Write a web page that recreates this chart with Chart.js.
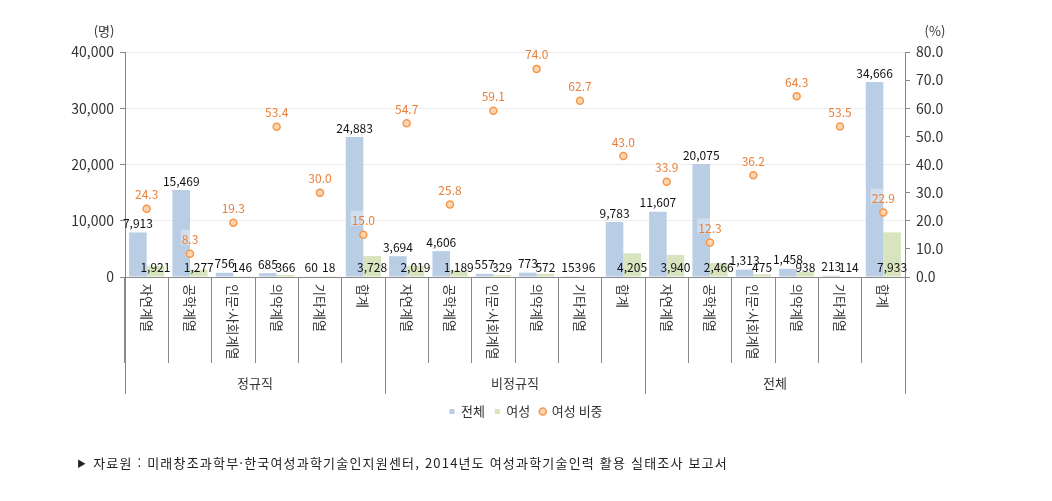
<!DOCTYPE html>
<html lang="ko">
<head>
    <meta charset="UTF-8">
    <title>여성과학기술인력 고용형태별 현황</title>
    <script src="https://cdn.jsdelivr.net/npm/chart.js"></script>
    <style>
        body { margin: 0; background: #fff; font-family: 'Noto Sans CJK KR', sans-serif; }
        #wrap { position: relative; width: 1052px; height: 501px; }
        #source {
            position: absolute;
            left: 77px;
            top: 453px;
            font-size: 13px;
            letter-spacing: 1.2px;
            color: #222;
            white-space: nowrap;
        }
        #source .arrow { font-size: 9px; margin-right: 6px; vertical-align: 1px; }
    </style>
</head>
<body>
<div id="wrap">
    <canvas id="chart" width="1052" height="501"></canvas>
    <div id="source"><span class="arrow">▶</span>자료원 : 미래창조과학부·한국여성과학기술인지원센터, 2014년도 여성과학기술인력 활용 실태조사 보고서</div>
</div>

<script>
    // categories (3 groups x 6 fields)
    const fields = ['자연계열', '공학계열', '인문·사회계열', '의약계열', '기타계열', '합계'];
    const groups = ['정규직', '비정규직', '전체'];
    const categories = [...fields, ...fields, ...fields];

    // values
    const totalValues = [7913, 15469, 756, 685, 60, 24883,
                         3694, 4606, 557, 773, 153, 9783,
                         11607, 20075, 1313, 1458, 213, 34666];
    const femaleValues = [1921, 1277, 146, 366, 18, 3728,
                          2019, 1189, 329, 572, 96, 4205,
                          3940, 2466, 475, 938, 114, 7933];
    const femaleShare = [24.3, 8.3, 19.3, 53.4, 30.0, 15.0,
                         54.7, 25.8, 59.1, 74.0, 62.7, 43.0,
                         33.9, 12.3, 36.2, 64.3, 53.5, 22.9];

    const FONT = "'Noto Sans CJK KR', sans-serif";
    const fmt = v => v.toLocaleString('en-US');

    // data labels, x axis labels, group labels and unit labels
    const decorPlugin = {
        id: 'decor',
        afterDatasetsDraw(chart) {
            const ctx = chart.ctx;
            ctx.save();
            ctx.font = '12px ' + FONT;
            ctx.textAlign = 'center';

            // total bars: label above bar
            chart.getDatasetMeta(0).data.forEach((el, i) => {
                ctx.fillStyle = '#111';
                ctx.textBaseline = 'bottom';
                ctx.fillText(fmt(totalValues[i]), el.x, el.y - 3);
            });
            // female bars: label near base
            chart.getDatasetMeta(1).data.forEach((el, i) => {
                ctx.fillStyle = '#111';
                ctx.textBaseline = 'bottom';
                ctx.fillText(fmt(femaleValues[i]), el.x, el.base - 3);
            });
            // share points: label above point
            chart.getDatasetMeta(2).data.forEach((el, i) => {
                const txt = femaleShare[i].toFixed(1);
                const w = ctx.measureText(txt).width;
                ctx.fillStyle = 'rgba(255,255,255,0.35)';
                ctx.fillRect(el.x - w / 2 - 1, el.y - 24, w + 2, 15);
                ctx.fillStyle = '#e8803a';
                ctx.textBaseline = 'bottom';
                ctx.fillText(txt, el.x, el.y - 8);
            });
            ctx.restore();
        },
        afterDraw(chart) {
            const ctx = chart.ctx;
            const x = chart.scales.x;
            const area = chart.chartArea;
            ctx.save();

            // category labels, rotated clockwise
            ctx.font = '13px ' + FONT;
            ctx.fillStyle = '#333';
            categories.forEach((c, i) => {
                const px = x.getPixelForValue(i);
                ctx.save();
                ctx.translate(px, area.bottom + 7);
                ctx.rotate(Math.PI / 2);
                ctx.textAlign = 'left';
                ctx.textBaseline = 'middle';
                ctx.fillText(c, 0, 0);
                ctx.restore();
            });

            // group separators and labels
            ctx.strokeStyle = '#888';
            ctx.lineWidth = 1;
            const n = fields.length;
            for (let g = 0; g <= groups.length; g++) {
                let px;
                if (g === 0) px = x.left;
                else if (g === groups.length) px = x.right;
                else px = (x.getPixelForValue(g * n - 1) + x.getPixelForValue(g * n)) / 2;
                px = Math.round(px) + 0.5;
                ctx.beginPath();
                ctx.moveTo(px, area.bottom);
                ctx.lineTo(px, 394);
                ctx.stroke();
            }
            ctx.textAlign = 'center';
            ctx.textBaseline = 'middle';
            groups.forEach((g, k) => {
                const cx = (x.getPixelForValue(k * n) + x.getPixelForValue(k * n + n - 1)) / 2;
                ctx.fillText(g, cx, 383);
            });

            // unit labels
            ctx.fillText('(명)', 104, 31);
            ctx.fillText('(%)', 935, 31);
            ctx.restore();
        }
    };

    const ctx = document.getElementById('chart').getContext('2d');
    new Chart(ctx, {
        data: {
            labels: categories,
            datasets: [
                {
                    type: 'bar',
                    label: '전체',
                    data: totalValues,
                    backgroundColor: '#b9cde5',
                    yAxisID: 'y',
                    categoryPercentage: 0.81,
                    barPercentage: 1.0,
                    order: 2
                },
                {
                    type: 'bar',
                    label: '여성',
                    data: femaleValues,
                    backgroundColor: '#d7e4bd',
                    yAxisID: 'y',
                    categoryPercentage: 0.81,
                    barPercentage: 1.0,
                    order: 2
                },
                {
                    type: 'line',
                    label: '여성 비중',
                    data: femaleShare,
                    yAxisID: 'y1',
                    showLine: false,
                    pointStyle: 'circle',
                    pointRadius: 3.5,
                    pointBorderWidth: 1.5,
                    pointBorderColor: '#f79646',
                    pointBackgroundColor: '#fcd5b4',
                    borderColor: '#f79646',
                    backgroundColor: '#fcd5b4',
                    order: 0
                }
            ]
        },
        options: {
            responsive: false,
            animation: false,
            layout: { padding: { top: 52, left: 0, right: 0, bottom: 73 } },
            plugins: {
                tooltip: { enabled: false },
                legend: {
                    position: 'bottom',
                    labels: {
                        font: { family: FONT, size: 13 },
                        color: '#333',
                        usePointStyle: true,
                        boxWidth: 5,
                        boxHeight: 5,
                        padding: 10,
                        sort: (a, b) => a.datasetIndex - b.datasetIndex,
                        generateLabels(chart) {
                            const items = Chart.defaults.plugins.legend.labels.generateLabels(chart);
                            items.forEach(it => {
                                it.pointStyle = it.datasetIndex === 2 ? 'circle' : 'rect';
                                it.lineWidth = it.datasetIndex === 2 ? 1.5 : 0;
                            });
                            return items;
                        }
                    }
                }
            },
            scales: {
                x: {
                    type: 'category',
                    offset: true,
                    ticks: { display: false },
                    grid: {
                        offset: true,
                        drawOnChartArea: false,
                        color: '#888',
                        tickLength: 86
                    },
                    border: { color: '#888' },
                    afterFit(scale) { scale.height = 118; }
                },
                y: {
                    position: 'left',
                    min: 0,
                    max: 40000,
                    ticks: {
                        stepSize: 10000,
                        callback: v => fmt(v),
                        font: { family: FONT, size: 14 },
                        color: '#333',
                        padding: 6
                    },
                    grid: { color: '#ececec', tickColor: '#888', tickLength: 5 },
                    border: { color: '#888' },
                    afterFit(scale) { scale.width = 125; }
                },
                y1: {
                    position: 'right',
                    min: 0,
                    max: 80,
                    ticks: {
                        stepSize: 10,
                        callback: v => v.toFixed(1),
                        font: { family: FONT, size: 14 },
                        color: '#333',
                        padding: 6
                    },
                    grid: { drawOnChartArea: false, tickColor: '#888', tickLength: 5 },
                    border: { color: '#888' },
                    afterFit(scale) { scale.width = 147; }
                }
            }
        },
        plugins: [decorPlugin]
    });
</script>
</body>
</html>
